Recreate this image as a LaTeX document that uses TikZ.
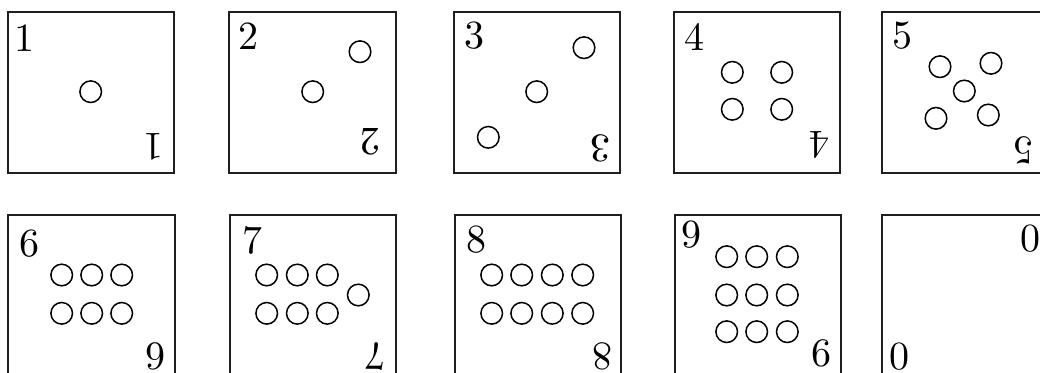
\documentclass[tikz,border=0pt]{standalone}
\usepackage{fontspec}
\newfontfamily\digfont{lmroman10-regular.otf}
\begin{document}
\begin{tikzpicture}[x=1pt,y=-1pt,
  card/.style={draw=black!88,line width=2pt},
  pip/.style={circle,draw=black,line width=1.5pt,minimum size=21.6pt,inner sep=0pt},
  num/.style={inner sep=0pt,font=\digfont\fontsize{40}{42}\selectfont},
  rnum/.style={num,rotate=180}]
\useasboundingbox (0,0) rectangle (1040,372);
\clip (0,0) rectangle (1040,372);
% top row cards
\draw[card] (7.5,12) rectangle (174,172.5) coordinate (c1);
\draw[card] (229,12) rectangle (396,172.5) coordinate (c2);
\draw[card] (454,12) rectangle (620,172.5) coordinate (c3);
\draw[card] (674,12) rectangle (840,172.5) coordinate (c4);
\draw[card] (882,12) rectangle (1048,172.5) coordinate (c5);
% bottom row cards
\draw[card] (8,215) rectangle (175,376) coordinate (c6);
\draw[card] (230,215) rectangle (396,376) coordinate (c7);
\draw[card] (455,215) rectangle (621,376) coordinate (c8);
\draw[card] (675,215) rectangle (841,376) coordinate (c9);
\draw[card] (882,215) rectangle (1048,376) coordinate (c10);
% labels
\node[num] (l1) at (24,38) {1};
\node[rnum] (r1) at (153.3,146.7) {1};
\node[num] (l2) at (248.3,36) {2};
\node[rnum] (r2) at (370.7,142) {2};
\node[num] (l3) at (474.3,35.5) {3};
\node[rnum] (r3) at (600.7,148.3) {3};
\node[num] (l4) at (694.3,36.7) {4};
\node[rnum] (r4) at (819.3,145) {4};
\node[num] (l5) at (902.7,36) {5};
\node[rnum] (r5) at (1023,150) {5};
\node[num] (l6) at (29.3,243.3) {6};
\node[rnum] (r6) at (155,356.7) {6};
\node[num] (l7) at (252.3,240) {7};
\node[rnum] (r7) at (375,356.7) {7};
\node[num] (l8) at (476,240) {8};
\node[rnum] (r8) at (602.7,356.7) {8};
\node[num] (l9) at (691.7,234.3) {9};
\node[rnum] (r9) at (821.7,353.3) {9};
\node[num] (l10) at (1030,238.3) {0};
\node[num] (r10) at (899.3,356.7) {0};
% pips
\node[pip] (p1a) at (90.7,91.7) {};
\node[pip] (p2a) at (312.7,91.7) {};
\node[pip] (p2b) at (360,51.7) {};
\node[pip] (p3a) at (536.7,91.7) {};
\node[pip] (p3b) at (584,47.7) {};
\node[pip] (p3c) at (488.3,137.3) {};
\node[pip] (p4a) at (732.3,72.3) {};
\node[pip] (p4b) at (781.7,72.3) {};
\node[pip] (p4c) at (732.3,109.3) {};
\node[pip] (p4d) at (781.7,109.3) {};
\node[pip] (p5a) at (940,66.7) {};
\node[pip] (p5b) at (991,63.3) {};
\node[pip] (p5c) at (964.3,91) {};
\node[pip] (p5d) at (936,118.3) {};
\node[pip] (p5e) at (988.3,115) {};
\foreach \x [count=\i] in {61.7,91.7,121.7}{
  \node[pip] (p6a\i) at (\x,275) {};
  \node[pip] (p6b\i) at (\x,313.3) {};}
\foreach \x [count=\i] in {266.7,297.3,327.3}{
  \node[pip] (p7a\i) at (\x,275) {};
  \node[pip] (p7b\i) at (\x,313.3) {};}
\node[pip] (p7c) at (358.3,295) {};
\foreach \x [count=\i] in {491.7,521.7,552.3,582.7}{
  \node[pip] (p8a\i) at (\x,275) {};
  \node[pip] (p8b\i) at (\x,313.3) {};}
\foreach \x [count=\i] in {726.7,756.7,787.3}{
  \node[pip] (p9a\i) at (\x,256.7) {};
  \node[pip] (p9b\i) at (\x,295) {};
  \node[pip] (p9c\i) at (\x,331.7) {};}
\end{tikzpicture}
\end{document}
